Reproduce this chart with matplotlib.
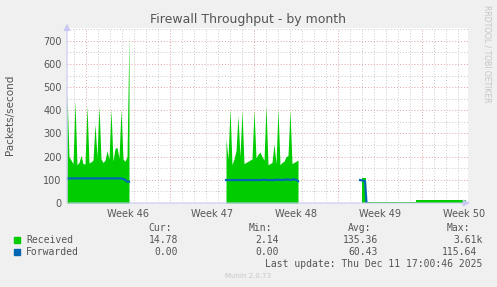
"""Munin style 'Firewall Throughput - by month' graph."""

from datetime import datetime, timedelta
import matplotlib
matplotlib.use('Agg')
import matplotlib.pyplot as plt

RX_COLOR = '#00CC00'
FW_COLOR = '#0066B3'
TXT      = '#555555'
MINOR_C  = '#C8C8C8'
MAJOR_C  = '#E4A0A0'
AXIS_C   = '#C8C8F4'

# ── data (4 h samples) ───────────────────────────────────────────────────────
SEG1_START = '2025-11-08 10:00'
SEG1_RX = [480, 200, 185, 170, 440, 165, 175, 205, 170, 168, 420, 172,
           178, 185, 340, 200, 420, 190, 175, 185, 225, 190, 405, 180,
           235, 240, 195, 405, 190, 180, 200, 730]
SEG1_FW = [106, 106, 106, 106, 106, 106, 106, 106, 106, 106, 106, 106,
           106, 106, 106, 106, 106, 106, 106, 106, 106, 106, 106, 106,
           106, 106, 106, 106, 104, 100, 92, 92]

SEG2_START = '2025-11-21 16:00'
SEG2_RX = [277, 190, 405, 165, 190, 225, 375, 200, 400, 170, 175, 180,
           185, 190, 400, 195, 210, 220, 200, 185, 420, 165, 170, 175,
           255, 170, 405, 165, 175, 180, 200, 205, 400, 170, 175, 180, 185]
SEG2_FW = [99, 99, 99, 99, 99, 99, 99, 99, 99, 99, 99, 99,
           99, 99, 99, 99, 99, 99, 99, 101, 99, 99, 99, 99,
           99, 100, 101, 99, 99, 101, 100, 102, 99, 101, 102, 100, 94]

# step levels after the outage
SEG3_RX_TIMES = ['2025-12-03 00:00', '2025-12-03 08:00',
                 '2025-12-07 12:00', '2025-12-11 16:00']
SEG3_RX = [107, 4, 14, 14]
SEG3_FW_TIMES = ['2025-12-02 20:00', '2025-12-03 06:00', '2025-12-03 09:00']
SEG3_FW = [99, 95, 0]
SEG3_FW_END = '2025-12-11 16:00'

X_START = '2025-11-08 10:00'
X_END   = '2025-12-11 20:00'
WEEK_STARTS = ['2025-11-10', '2025-11-17', '2025-11-24', '2025-12-01', '2025-12-08']

LEGEND_ROWS = [
    ('Received',  RX_COLOR, ['14.78', '2.14', '135.36', '3.61k']),
    ('Forwarded', FW_COLOR, ['0.00', '0.00', '60.43', '115.64']),
]
LAST_UPDATE = 'Last update: Thu Dec 11 17:00:46 2025'


def ts(s):
    return datetime.strptime(s, '%Y-%m-%d %H:%M')


def series(start, n):
    t0 = ts(start)
    return [t0 + timedelta(hours=4 * i) for i in range(n)]


fig = plt.figure(figsize=(4.97, 2.87), dpi=100, facecolor='#F0F0F0')
W, H = 497, 287
L, R, T, B = 67, 468, 28, 203
ax = fig.add_axes([L / W, 1 - B / H, (R - L) / W, (B - T) / H])
ax.set_facecolor('white')
ax.set_xlim(ts(X_START), ts(X_END))
ax.set_ylim(0, 755)

# grid
day0 = ts(X_START).replace(hour=0) + timedelta(days=1)
days = [day0 + timedelta(days=i) for i in range(34)]
weeks = [datetime.strptime(w, '%Y-%m-%d') for w in WEEK_STARTS]
for d in days:
    if d not in weeks and d < ts(X_END):
        ax.axvline(d, color=MINOR_C, lw=0.7, ls=(0, (1, 2)), zorder=0)
for y in range(50, 800, 100):
    ax.axhline(y, color=MINOR_C, lw=0.7, ls=(0, (1, 2)), zorder=0)
for y in range(100, 800, 100):
    ax.axhline(y, color=MAJOR_C, lw=0.7, ls=(0, (1, 2)), zorder=0)
for w in weeks:
    ax.axvline(w, color=MAJOR_C, lw=0.7, ls=(0, (1, 2)), zorder=0)

# forwarded at zero sits under the received area
ax.plot([ts(SEG3_FW_TIMES[-1]), ts(SEG3_FW_END)], [SEG3_FW[-1]] * 2,
        color=FW_COLOR, lw=1.0, zorder=1)

# received area
t1 = series(SEG1_START, len(SEG1_RX))
t2 = series(SEG2_START, len(SEG2_RX))
ax.fill_between(t1, 0, SEG1_RX, color=RX_COLOR, lw=0, zorder=2)
ax.fill_between(t2, 0, SEG2_RX, color=RX_COLOR, lw=0, zorder=2)
t3 = [ts(s) for s in SEG3_RX_TIMES]
ax.fill_between(t3, 0, SEG3_RX, step='post', color=RX_COLOR, lw=0, zorder=2)

# forwarded line
ax.plot(t1, SEG1_FW, color=FW_COLOR, lw=1.6, zorder=3)
ax.plot(t2, SEG2_FW, color=FW_COLOR, lw=1.6, zorder=3)
ax.plot([ts(s) for s in SEG3_FW_TIMES], SEG3_FW, color=FW_COLOR, lw=1.6, zorder=3)

# ticks
for s in ax.spines.values():
    s.set_visible(False)
ax.set_yticks(range(0, 800, 100))
ax.tick_params(axis='y', length=0, labelsize=7, labelcolor=TXT, pad=4)
ax.set_xticks([w + timedelta(days=3, hours=12) for w in weeks])
ax.set_xticklabels([f'Week {w.isocalendar()[1]}' for w in weeks])
ax.tick_params(axis='x', length=0, labelsize=7, labelcolor=TXT, pad=4)

# axes with arrow heads
ax.annotate('', xy=(1.012, 0), xytext=(-0.003, 0), xycoords='axes fraction',
            arrowprops=dict(arrowstyle='-|>,head_length=0.4,head_width=0.2',
                            color=AXIS_C, lw=0.8), annotation_clip=False, zorder=5)
ax.annotate('', xy=(0, 1.04), xytext=(0, -0.01), xycoords='axes fraction',
            arrowprops=dict(arrowstyle='-|>,head_length=0.4,head_width=0.2',
                            color=AXIS_C, lw=0.8), annotation_clip=False, zorder=5)

# texts
fig.text(248 / W, 1 - 19 / H, 'Firewall Throughput - by month', ha='center',
         va='center', fontsize=9, color=TXT)
fig.text(10 / W, 1 - 115 / H, 'Packets/second', rotation=90, ha='center',
         va='center', fontsize=7.5, color=TXT)
fig.text(487 / W, 1 - 5 / H, 'RRDTOOL / TOBI OETIKER', rotation=270, ha='center',
         va='top', fontsize=5.5, color='#C4C4C4')

mono = 'DejaVu Sans Mono'
col_right = [172, 272, 371, 470]
val_right = [178, 279, 378, 483]
for hdr, x in zip(['Cur:', 'Min:', 'Avg:', 'Max:'], col_right):
    fig.text(x / W, 1 - 228 / H, hdr, ha='right', va='center', fontsize=7,
             family=mono, color=TXT)
for i, (name, c, vals) in enumerate(LEGEND_ROWS):
    y = 240 + 12 * i
    fig.patches.append(plt.Rectangle((14 / W, 1 - (y + 3) / H), 6 / W, 6 / H,
                                     transform=fig.transFigure, color=c))
    fig.text(26 / W, 1 - y / H, name, ha='left', va='center', fontsize=7,
             family=mono, color=TXT)
    for v, x in zip(vals, val_right):
        if v == '115.64':
            x = 477
        fig.text(x / W, 1 - y / H, v, ha='right', va='center', fontsize=7,
                 family=mono, color=TXT)
fig.text(482 / W, 1 - 264 / H, LAST_UPDATE, ha='right', va='center', fontsize=7,
         family=mono, color=TXT)
fig.text(248 / W, 1 - 276 / H, 'Munin 2.0.73', ha='center', va='center',
         fontsize=5, color='#C8C8C8')

fig.savefig('out.png', dpi=100, facecolor=fig.get_facecolor())
